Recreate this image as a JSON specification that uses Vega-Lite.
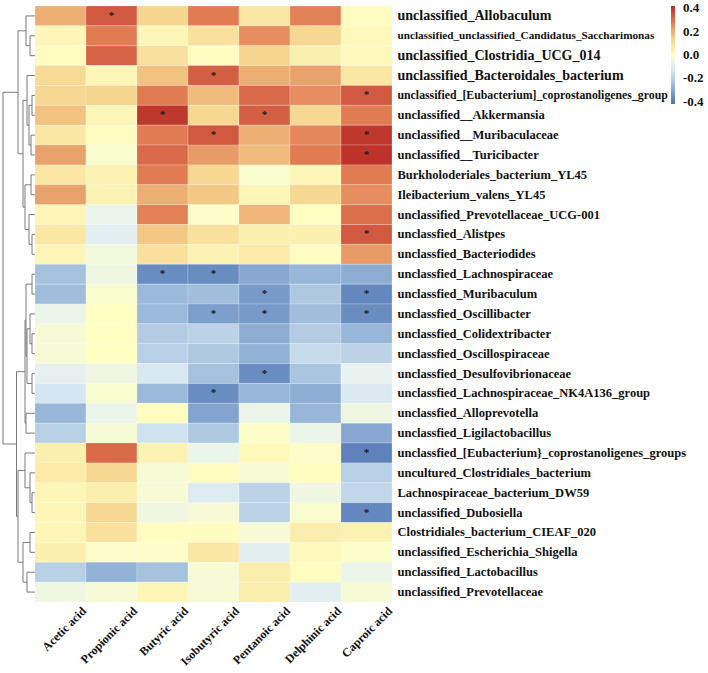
{
  "$schema": "https://vega.github.io/schema/vega-lite/v6.json",
  "padding": {"left": 0, "top": 5, "right": 0, "bottom": 0},
  "background": "white",
  "config": {"view": {"stroke": null}},
  "datasets": {
    "dendro": [
      {"x1":5,"y1":1.5,"x2":5,"y2":2.5},{"x1":0,"y1":1.5,"x2":5,"y2":1.5},{"x1":0,"y1":2.5,"x2":5,"y2":2.5},
      {"x1":9,"y1":0.5,"x2":9,"y2":2.0},{"x1":0,"y1":0.5,"x2":9,"y2":0.5},{"x1":5,"y1":2.0,"x2":9,"y2":2.0},
      {"x1":3,"y1":4.5,"x2":3,"y2":5.5},{"x1":0,"y1":4.5,"x2":3,"y2":4.5},{"x1":0,"y1":5.5,"x2":3,"y2":5.5},
      {"x1":4,"y1":6.5,"x2":4,"y2":7.5},{"x1":0,"y1":6.5,"x2":4,"y2":6.5},{"x1":0,"y1":7.5,"x2":4,"y2":7.5},
      {"x1":6,"y1":5.0,"x2":6,"y2":7.0},{"x1":3,"y1":5.0,"x2":6,"y2":5.0},{"x1":4,"y1":7.0,"x2":6,"y2":7.0},
      {"x1":8,"y1":3.5,"x2":8,"y2":6.0},{"x1":0,"y1":3.5,"x2":8,"y2":3.5},{"x1":6,"y1":6.0,"x2":8,"y2":6.0},
      {"x1":4,"y1":8.5,"x2":4,"y2":9.5},{"x1":0,"y1":8.5,"x2":4,"y2":8.5},{"x1":0,"y1":9.5,"x2":4,"y2":9.5},
      {"x1":3,"y1":11.5,"x2":3,"y2":12.5},{"x1":0,"y1":11.5,"x2":3,"y2":11.5},{"x1":0,"y1":12.5,"x2":3,"y2":12.5},
      {"x1":6,"y1":10.5,"x2":6,"y2":12.0},{"x1":0,"y1":10.5,"x2":6,"y2":10.5},{"x1":3,"y1":12.0,"x2":6,"y2":12.0},
      {"x1":10,"y1":9.0,"x2":10,"y2":11.25},{"x1":4,"y1":9.0,"x2":10,"y2":9.0},{"x1":6,"y1":11.25,"x2":10,"y2":11.25},
      {"x1":12,"y1":4.75,"x2":12,"y2":10.125},{"x1":8,"y1":4.75,"x2":12,"y2":4.75},{"x1":10,"y1":10.125,"x2":12,"y2":10.125},
      {"x1":17,"y1":1.25,"x2":17,"y2":7.4375},{"x1":9,"y1":1.25,"x2":17,"y2":1.25},{"x1":12,"y1":7.4375,"x2":17,"y2":7.4375},
      {"x1":3,"y1":13.5,"x2":3,"y2":14.5},{"x1":0,"y1":13.5,"x2":3,"y2":13.5},{"x1":0,"y1":14.5,"x2":3,"y2":14.5},
      {"x1":3,"y1":16.5,"x2":3,"y2":17.5},{"x1":0,"y1":16.5,"x2":3,"y2":16.5},{"x1":0,"y1":17.5,"x2":3,"y2":17.5},
      {"x1":5,"y1":15.5,"x2":5,"y2":17.0},{"x1":0,"y1":15.5,"x2":5,"y2":15.5},{"x1":3,"y1":17.0,"x2":5,"y2":17.0},
      {"x1":3,"y1":18.5,"x2":3,"y2":19.5},{"x1":0,"y1":18.5,"x2":3,"y2":18.5},{"x1":0,"y1":19.5,"x2":3,"y2":19.5},
      {"x1":8,"y1":16.25,"x2":8,"y2":19.0},{"x1":5,"y1":16.25,"x2":8,"y2":16.25},{"x1":3,"y1":19.0,"x2":8,"y2":19.0},
      {"x1":9,"y1":14.0,"x2":9,"y2":17.625},{"x1":3,"y1":14.0,"x2":9,"y2":14.0},{"x1":8,"y1":17.625,"x2":9,"y2":17.625},
      {"x1":9,"y1":20.5,"x2":9,"y2":21.5},{"x1":0,"y1":20.5,"x2":9,"y2":20.5},{"x1":0,"y1":21.5,"x2":9,"y2":21.5},
      {"x1":10,"y1":15.8125,"x2":10,"y2":21.0},{"x1":9,"y1":15.8125,"x2":10,"y2":15.8125},{"x1":9,"y1":21.0,"x2":10,"y2":21.0},
      {"x1":3,"y1":24.5,"x2":3,"y2":25.5},{"x1":0,"y1":24.5,"x2":3,"y2":24.5},{"x1":0,"y1":25.5,"x2":3,"y2":25.5},
      {"x1":5,"y1":23.5,"x2":5,"y2":25.0},{"x1":0,"y1":23.5,"x2":5,"y2":23.5},{"x1":3,"y1":25.0,"x2":5,"y2":25.0},
      {"x1":10,"y1":22.5,"x2":10,"y2":24.25},{"x1":0,"y1":22.5,"x2":10,"y2":22.5},{"x1":5,"y1":24.25,"x2":10,"y2":24.25},
      {"x1":5,"y1":26.5,"x2":5,"y2":27.5},{"x1":0,"y1":26.5,"x2":5,"y2":26.5},{"x1":0,"y1":27.5,"x2":5,"y2":27.5},
      {"x1":8,"y1":28.5,"x2":8,"y2":29.5},{"x1":0,"y1":28.5,"x2":8,"y2":28.5},{"x1":0,"y1":29.5,"x2":8,"y2":29.5},
      {"x1":12,"y1":27.0,"x2":12,"y2":29.0},{"x1":5,"y1":27.0,"x2":12,"y2":27.0},{"x1":8,"y1":29.0,"x2":12,"y2":29.0},
      {"x1":17,"y1":23.375,"x2":17,"y2":28.0},{"x1":10,"y1":23.375,"x2":17,"y2":23.375},{"x1":12,"y1":28.0,"x2":17,"y2":28.0},
      {"x1":18.5,"y1":18.40625,"x2":18.5,"y2":25.6875},{"x1":10,"y1":18.40625,"x2":18.5,"y2":18.40625},{"x1":17,"y1":25.6875,"x2":18.5,"y2":25.6875},
      {"x1":32,"y1":4.34375,"x2":32,"y2":22.046875},{"x1":17,"y1":4.34375,"x2":32,"y2":4.34375},{"x1":18.5,"y1":22.046875,"x2":32,"y2":22.046875}
    ],
    "cells": [
      {"taxon":"unclassified_Allobaculum","acid":"Acetic acid","r":0.20,"sig":""},
      {"taxon":"unclassified_Allobaculum","acid":"Propionic acid","r":0.34,"sig":"*"},
      {"taxon":"unclassified_Allobaculum","acid":"Butyric acid","r":0.14,"sig":""},
      {"taxon":"unclassified_Allobaculum","acid":"Isobutyric acid","r":0.28,"sig":""},
      {"taxon":"unclassified_Allobaculum","acid":"Pentanoic acid","r":0.08,"sig":""},
      {"taxon":"unclassified_Allobaculum","acid":"Delphinic acid","r":0.27,"sig":""},
      {"taxon":"unclassified_Allobaculum","acid":"Caproic acid","r":0.01,"sig":""},
      {"taxon":"unclassified_unclassified_Candidatus_Saccharimonas","acid":"Acetic acid","r":0.03,"sig":""},
      {"taxon":"unclassified_unclassified_Candidatus_Saccharimonas","acid":"Propionic acid","r":0.28,"sig":""},
      {"taxon":"unclassified_unclassified_Candidatus_Saccharimonas","acid":"Butyric acid","r":0.03,"sig":""},
      {"taxon":"unclassified_unclassified_Candidatus_Saccharimonas","acid":"Isobutyric acid","r":0.10,"sig":""},
      {"taxon":"unclassified_unclassified_Candidatus_Saccharimonas","acid":"Pentanoic acid","r":0.25,"sig":""},
      {"taxon":"unclassified_unclassified_Candidatus_Saccharimonas","acid":"Delphinic acid","r":0.13,"sig":""},
      {"taxon":"unclassified_unclassified_Candidatus_Saccharimonas","acid":"Caproic acid","r":0.02,"sig":""},
      {"taxon":"unclassified_Clostridia_UCG_014","acid":"Acetic acid","r":0.01,"sig":""},
      {"taxon":"unclassified_Clostridia_UCG_014","acid":"Propionic acid","r":0.32,"sig":""},
      {"taxon":"unclassified_Clostridia_UCG_014","acid":"Butyric acid","r":0.10,"sig":""},
      {"taxon":"unclassified_Clostridia_UCG_014","acid":"Isobutyric acid","r":0.01,"sig":""},
      {"taxon":"unclassified_Clostridia_UCG_014","acid":"Pentanoic acid","r":0.14,"sig":""},
      {"taxon":"unclassified_Clostridia_UCG_014","acid":"Delphinic acid","r":0.05,"sig":""},
      {"taxon":"unclassified_Clostridia_UCG_014","acid":"Caproic acid","r":0.02,"sig":""},
      {"taxon":"unclassified_Bacteroidales_bacterium","acid":"Acetic acid","r":0.12,"sig":""},
      {"taxon":"unclassified_Bacteroidales_bacterium","acid":"Propionic acid","r":0.03,"sig":""},
      {"taxon":"unclassified_Bacteroidales_bacterium","acid":"Butyric acid","r":0.17,"sig":""},
      {"taxon":"unclassified_Bacteroidales_bacterium","acid":"Isobutyric acid","r":0.33,"sig":"*"},
      {"taxon":"unclassified_Bacteroidales_bacterium","acid":"Pentanoic acid","r":0.20,"sig":""},
      {"taxon":"unclassified_Bacteroidales_bacterium","acid":"Delphinic acid","r":0.22,"sig":""},
      {"taxon":"unclassified_Bacteroidales_bacterium","acid":"Caproic acid","r":0.08,"sig":""},
      {"taxon":"unclassified_[Eubacterium]_coprostanoligenes_group","acid":"Acetic acid","r":0.13,"sig":""},
      {"taxon":"unclassified_[Eubacterium]_coprostanoligenes_group","acid":"Propionic acid","r":0.14,"sig":""},
      {"taxon":"unclassified_[Eubacterium]_coprostanoligenes_group","acid":"Butyric acid","r":0.28,"sig":""},
      {"taxon":"unclassified_[Eubacterium]_coprostanoligenes_group","acid":"Isobutyric acid","r":0.18,"sig":""},
      {"taxon":"unclassified_[Eubacterium]_coprostanoligenes_group","acid":"Pentanoic acid","r":0.31,"sig":""},
      {"taxon":"unclassified_[Eubacterium]_coprostanoligenes_group","acid":"Delphinic acid","r":0.25,"sig":""},
      {"taxon":"unclassified_[Eubacterium]_coprostanoligenes_group","acid":"Caproic acid","r":0.34,"sig":"*"},
      {"taxon":"unclassified__Akkermansia","acid":"Acetic acid","r":0.17,"sig":""},
      {"taxon":"unclassified__Akkermansia","acid":"Propionic acid","r":0.03,"sig":""},
      {"taxon":"unclassified__Akkermansia","acid":"Butyric acid","r":0.40,"sig":"*"},
      {"taxon":"unclassified__Akkermansia","acid":"Isobutyric acid","r":0.13,"sig":""},
      {"taxon":"unclassified__Akkermansia","acid":"Pentanoic acid","r":0.33,"sig":"*"},
      {"taxon":"unclassified__Akkermansia","acid":"Delphinic acid","r":0.13,"sig":""},
      {"taxon":"unclassified__Akkermansia","acid":"Caproic acid","r":0.28,"sig":""},
      {"taxon":"unclassified__Muribaculaceae","acid":"Acetic acid","r":0.08,"sig":""},
      {"taxon":"unclassified__Muribaculaceae","acid":"Propionic acid","r":0.01,"sig":""},
      {"taxon":"unclassified__Muribaculaceae","acid":"Butyric acid","r":0.28,"sig":""},
      {"taxon":"unclassified__Muribaculaceae","acid":"Isobutyric acid","r":0.34,"sig":"*"},
      {"taxon":"unclassified__Muribaculaceae","acid":"Pentanoic acid","r":0.20,"sig":""},
      {"taxon":"unclassified__Muribaculaceae","acid":"Delphinic acid","r":0.26,"sig":""},
      {"taxon":"unclassified__Muribaculaceae","acid":"Caproic acid","r":0.40,"sig":"*"},
      {"taxon":"unclassified__Turicibacter","acid":"Acetic acid","r":0.22,"sig":""},
      {"taxon":"unclassified__Turicibacter","acid":"Propionic acid","r":-0.02,"sig":""},
      {"taxon":"unclassified__Turicibacter","acid":"Butyric acid","r":0.31,"sig":""},
      {"taxon":"unclassified__Turicibacter","acid":"Isobutyric acid","r":0.23,"sig":""},
      {"taxon":"unclassified__Turicibacter","acid":"Pentanoic acid","r":0.18,"sig":""},
      {"taxon":"unclassified__Turicibacter","acid":"Delphinic acid","r":0.28,"sig":""},
      {"taxon":"unclassified__Turicibacter","acid":"Caproic acid","r":0.41,"sig":"*"},
      {"taxon":"Burkholoderiales_bacterium_YL45","acid":"Acetic acid","r":0.08,"sig":""},
      {"taxon":"Burkholoderiales_bacterium_YL45","acid":"Propionic acid","r":0.04,"sig":""},
      {"taxon":"Burkholoderiales_bacterium_YL45","acid":"Butyric acid","r":0.28,"sig":""},
      {"taxon":"Burkholoderiales_bacterium_YL45","acid":"Isobutyric acid","r":0.13,"sig":""},
      {"taxon":"Burkholoderiales_bacterium_YL45","acid":"Pentanoic acid","r":-0.02,"sig":""},
      {"taxon":"Burkholoderiales_bacterium_YL45","acid":"Delphinic acid","r":0.03,"sig":""},
      {"taxon":"Burkholoderiales_bacterium_YL45","acid":"Caproic acid","r":0.28,"sig":""},
      {"taxon":"Ileibacterium_valens_YL45","acid":"Acetic acid","r":0.22,"sig":""},
      {"taxon":"Ileibacterium_valens_YL45","acid":"Propionic acid","r":0.04,"sig":""},
      {"taxon":"Ileibacterium_valens_YL45","acid":"Butyric acid","r":0.20,"sig":""},
      {"taxon":"Ileibacterium_valens_YL45","acid":"Isobutyric acid","r":0.16,"sig":""},
      {"taxon":"Ileibacterium_valens_YL45","acid":"Pentanoic acid","r":0.03,"sig":""},
      {"taxon":"Ileibacterium_valens_YL45","acid":"Delphinic acid","r":0.13,"sig":""},
      {"taxon":"Ileibacterium_valens_YL45","acid":"Caproic acid","r":0.25,"sig":""},
      {"taxon":"unclassified_Prevotellaceae_UCG-001","acid":"Acetic acid","r":0.03,"sig":""},
      {"taxon":"unclassified_Prevotellaceae_UCG-001","acid":"Propionic acid","r":-0.06,"sig":""},
      {"taxon":"unclassified_Prevotellaceae_UCG-001","acid":"Butyric acid","r":0.27,"sig":""},
      {"taxon":"unclassified_Prevotellaceae_UCG-001","acid":"Isobutyric acid","r":-0.01,"sig":""},
      {"taxon":"unclassified_Prevotellaceae_UCG-001","acid":"Pentanoic acid","r":0.19,"sig":""},
      {"taxon":"unclassified_Prevotellaceae_UCG-001","acid":"Delphinic acid","r":0.00,"sig":""},
      {"taxon":"unclassified_Prevotellaceae_UCG-001","acid":"Caproic acid","r":0.30,"sig":""},
      {"taxon":"unclassfied_Alistpes","acid":"Acetic acid","r":0.08,"sig":""},
      {"taxon":"unclassfied_Alistpes","acid":"Propionic acid","r":-0.09,"sig":""},
      {"taxon":"unclassfied_Alistpes","acid":"Butyric acid","r":0.16,"sig":""},
      {"taxon":"unclassfied_Alistpes","acid":"Isobutyric acid","r":0.10,"sig":""},
      {"taxon":"unclassfied_Alistpes","acid":"Pentanoic acid","r":0.05,"sig":""},
      {"taxon":"unclassfied_Alistpes","acid":"Delphinic acid","r":0.05,"sig":""},
      {"taxon":"unclassfied_Alistpes","acid":"Caproic acid","r":0.34,"sig":"*"},
      {"taxon":"unclassfied_Bacteriodides","acid":"Acetic acid","r":0.03,"sig":""},
      {"taxon":"unclassfied_Bacteriodides","acid":"Propionic acid","r":-0.04,"sig":""},
      {"taxon":"unclassfied_Bacteriodides","acid":"Butyric acid","r":0.10,"sig":""},
      {"taxon":"unclassfied_Bacteriodides","acid":"Isobutyric acid","r":0.04,"sig":""},
      {"taxon":"unclassfied_Bacteriodides","acid":"Pentanoic acid","r":0.07,"sig":""},
      {"taxon":"unclassfied_Bacteriodides","acid":"Delphinic acid","r":0.01,"sig":""},
      {"taxon":"unclassfied_Bacteriodides","acid":"Caproic acid","r":0.23,"sig":""},
      {"taxon":"unclassfied_Lachnospiraceae","acid":"Acetic acid","r":-0.24,"sig":""},
      {"taxon":"unclassfied_Lachnospiraceae","acid":"Propionic acid","r":-0.05,"sig":""},
      {"taxon":"unclassfied_Lachnospiraceae","acid":"Butyric acid","r":-0.36,"sig":"*"},
      {"taxon":"unclassfied_Lachnospiraceae","acid":"Isobutyric acid","r":-0.36,"sig":"*"},
      {"taxon":"unclassfied_Lachnospiraceae","acid":"Pentanoic acid","r":-0.30,"sig":""},
      {"taxon":"unclassfied_Lachnospiraceae","acid":"Delphinic acid","r":-0.27,"sig":""},
      {"taxon":"unclassfied_Lachnospiraceae","acid":"Caproic acid","r":-0.29,"sig":""},
      {"taxon":"unclassfied_Muribaculum","acid":"Acetic acid","r":-0.25,"sig":""},
      {"taxon":"unclassfied_Muribaculum","acid":"Propionic acid","r":-0.02,"sig":""},
      {"taxon":"unclassfied_Muribaculum","acid":"Butyric acid","r":-0.26,"sig":""},
      {"taxon":"unclassfied_Muribaculum","acid":"Isobutyric acid","r":-0.25,"sig":""},
      {"taxon":"unclassfied_Muribaculum","acid":"Pentanoic acid","r":-0.33,"sig":"*"},
      {"taxon":"unclassfied_Muribaculum","acid":"Delphinic acid","r":-0.22,"sig":""},
      {"taxon":"unclassfied_Muribaculum","acid":"Caproic acid","r":-0.37,"sig":"*"},
      {"taxon":"unclassfied_Oscillibacter","acid":"Acetic acid","r":-0.06,"sig":""},
      {"taxon":"unclassfied_Oscillibacter","acid":"Propionic acid","r":0.00,"sig":""},
      {"taxon":"unclassfied_Oscillibacter","acid":"Butyric acid","r":-0.26,"sig":""},
      {"taxon":"unclassfied_Oscillibacter","acid":"Isobutyric acid","r":-0.32,"sig":"*"},
      {"taxon":"unclassfied_Oscillibacter","acid":"Pentanoic acid","r":-0.33,"sig":"*"},
      {"taxon":"unclassfied_Oscillibacter","acid":"Delphinic acid","r":-0.25,"sig":""},
      {"taxon":"unclassfied_Oscillibacter","acid":"Caproic acid","r":-0.36,"sig":"*"},
      {"taxon":"unclassfied_Colidextribacter","acid":"Acetic acid","r":-0.03,"sig":""},
      {"taxon":"unclassfied_Colidextribacter","acid":"Propionic acid","r":0.00,"sig":""},
      {"taxon":"unclassfied_Colidextribacter","acid":"Butyric acid","r":-0.21,"sig":""},
      {"taxon":"unclassfied_Colidextribacter","acid":"Isobutyric acid","r":-0.19,"sig":""},
      {"taxon":"unclassfied_Colidextribacter","acid":"Pentanoic acid","r":-0.29,"sig":""},
      {"taxon":"unclassfied_Colidextribacter","acid":"Delphinic acid","r":-0.21,"sig":""},
      {"taxon":"unclassfied_Colidextribacter","acid":"Caproic acid","r":-0.27,"sig":""},
      {"taxon":"unclassfied_Oscillospiraceae","acid":"Acetic acid","r":-0.03,"sig":""},
      {"taxon":"unclassfied_Oscillospiraceae","acid":"Propionic acid","r":0.00,"sig":""},
      {"taxon":"unclassfied_Oscillospiraceae","acid":"Butyric acid","r":-0.20,"sig":""},
      {"taxon":"unclassfied_Oscillospiraceae","acid":"Isobutyric acid","r":-0.22,"sig":""},
      {"taxon":"unclassfied_Oscillospiraceae","acid":"Pentanoic acid","r":-0.28,"sig":""},
      {"taxon":"unclassfied_Oscillospiraceae","acid":"Delphinic acid","r":-0.17,"sig":""},
      {"taxon":"unclassfied_Oscillospiraceae","acid":"Caproic acid","r":-0.19,"sig":""},
      {"taxon":"unclassfied_Desulfovibrionaceae","acid":"Acetic acid","r":-0.08,"sig":""},
      {"taxon":"unclassfied_Desulfovibrionaceae","acid":"Propionic acid","r":-0.05,"sig":""},
      {"taxon":"unclassfied_Desulfovibrionaceae","acid":"Butyric acid","r":-0.13,"sig":""},
      {"taxon":"unclassfied_Desulfovibrionaceae","acid":"Isobutyric acid","r":-0.24,"sig":""},
      {"taxon":"unclassfied_Desulfovibrionaceae","acid":"Pentanoic acid","r":-0.36,"sig":"*"},
      {"taxon":"unclassfied_Desulfovibrionaceae","acid":"Delphinic acid","r":-0.23,"sig":""},
      {"taxon":"unclassfied_Desulfovibrionaceae","acid":"Caproic acid","r":-0.07,"sig":""},
      {"taxon":"unclassfied_Lachnospiraceae_NK4A136_group","acid":"Acetic acid","r":-0.14,"sig":""},
      {"taxon":"unclassfied_Lachnospiraceae_NK4A136_group","acid":"Propionic acid","r":-0.02,"sig":""},
      {"taxon":"unclassfied_Lachnospiraceae_NK4A136_group","acid":"Butyric acid","r":-0.26,"sig":""},
      {"taxon":"unclassfied_Lachnospiraceae_NK4A136_group","acid":"Isobutyric acid","r":-0.36,"sig":"*"},
      {"taxon":"unclassfied_Lachnospiraceae_NK4A136_group","acid":"Pentanoic acid","r":-0.27,"sig":""},
      {"taxon":"unclassfied_Lachnospiraceae_NK4A136_group","acid":"Delphinic acid","r":-0.29,"sig":""},
      {"taxon":"unclassfied_Lachnospiraceae_NK4A136_group","acid":"Caproic acid","r":-0.12,"sig":""},
      {"taxon":"unclassfied_Alloprevotella","acid":"Acetic acid","r":-0.27,"sig":""},
      {"taxon":"unclassfied_Alloprevotella","acid":"Propionic acid","r":-0.06,"sig":""},
      {"taxon":"unclassfied_Alloprevotella","acid":"Butyric acid","r":0.01,"sig":""},
      {"taxon":"unclassfied_Alloprevotella","acid":"Isobutyric acid","r":-0.31,"sig":""},
      {"taxon":"unclassfied_Alloprevotella","acid":"Pentanoic acid","r":-0.06,"sig":""},
      {"taxon":"unclassfied_Alloprevotella","acid":"Delphinic acid","r":-0.27,"sig":""},
      {"taxon":"unclassfied_Alloprevotella","acid":"Caproic acid","r":-0.05,"sig":""},
      {"taxon":"unclassfied_Ligilactobacillus","acid":"Acetic acid","r":-0.20,"sig":""},
      {"taxon":"unclassfied_Ligilactobacillus","acid":"Propionic acid","r":-0.03,"sig":""},
      {"taxon":"unclassfied_Ligilactobacillus","acid":"Butyric acid","r":-0.15,"sig":""},
      {"taxon":"unclassfied_Ligilactobacillus","acid":"Isobutyric acid","r":-0.22,"sig":""},
      {"taxon":"unclassfied_Ligilactobacillus","acid":"Pentanoic acid","r":-0.01,"sig":""},
      {"taxon":"unclassfied_Ligilactobacillus","acid":"Delphinic acid","r":-0.06,"sig":""},
      {"taxon":"unclassfied_Ligilactobacillus","acid":"Caproic acid","r":-0.30,"sig":""},
      {"taxon":"unclassfied_[Eubacterium}_coprostanoligenes_groups","acid":"Acetic acid","r":0.05,"sig":""},
      {"taxon":"unclassfied_[Eubacterium}_coprostanoligenes_groups","acid":"Propionic acid","r":0.31,"sig":""},
      {"taxon":"unclassfied_[Eubacterium}_coprostanoligenes_groups","acid":"Butyric acid","r":0.04,"sig":""},
      {"taxon":"unclassfied_[Eubacterium}_coprostanoligenes_groups","acid":"Isobutyric acid","r":-0.06,"sig":""},
      {"taxon":"unclassfied_[Eubacterium}_coprostanoligenes_groups","acid":"Pentanoic acid","r":0.02,"sig":""},
      {"taxon":"unclassfied_[Eubacterium}_coprostanoligenes_groups","acid":"Delphinic acid","r":-0.01,"sig":""},
      {"taxon":"unclassfied_[Eubacterium}_coprostanoligenes_groups","acid":"Caproic acid","r":-0.38,"sig":"*"},
      {"taxon":"uncultured_Clostridiales_bacterium","acid":"Acetic acid","r":0.07,"sig":""},
      {"taxon":"uncultured_Clostridiales_bacterium","acid":"Propionic acid","r":0.13,"sig":""},
      {"taxon":"uncultured_Clostridiales_bacterium","acid":"Butyric acid","r":-0.03,"sig":""},
      {"taxon":"uncultured_Clostridiales_bacterium","acid":"Isobutyric acid","r":0.01,"sig":""},
      {"taxon":"uncultured_Clostridiales_bacterium","acid":"Pentanoic acid","r":-0.03,"sig":""},
      {"taxon":"uncultured_Clostridiales_bacterium","acid":"Delphinic acid","r":0.01,"sig":""},
      {"taxon":"uncultured_Clostridiales_bacterium","acid":"Caproic acid","r":-0.20,"sig":""},
      {"taxon":"Lachnospiraceae_bacterium_DW59","acid":"Acetic acid","r":0.03,"sig":""},
      {"taxon":"Lachnospiraceae_bacterium_DW59","acid":"Propionic acid","r":0.06,"sig":""},
      {"taxon":"Lachnospiraceae_bacterium_DW59","acid":"Butyric acid","r":-0.03,"sig":""},
      {"taxon":"Lachnospiraceae_bacterium_DW59","acid":"Isobutyric acid","r":-0.11,"sig":""},
      {"taxon":"Lachnospiraceae_bacterium_DW59","acid":"Pentanoic acid","r":-0.19,"sig":""},
      {"taxon":"Lachnospiraceae_bacterium_DW59","acid":"Delphinic acid","r":-0.05,"sig":""},
      {"taxon":"Lachnospiraceae_bacterium_DW59","acid":"Caproic acid","r":-0.18,"sig":""},
      {"taxon":"unclassified_Dubosiella","acid":"Acetic acid","r":0.03,"sig":""},
      {"taxon":"unclassified_Dubosiella","acid":"Propionic acid","r":0.13,"sig":""},
      {"taxon":"unclassified_Dubosiella","acid":"Butyric acid","r":-0.05,"sig":""},
      {"taxon":"unclassified_Dubosiella","acid":"Isobutyric acid","r":-0.03,"sig":""},
      {"taxon":"unclassified_Dubosiella","acid":"Pentanoic acid","r":-0.19,"sig":""},
      {"taxon":"unclassified_Dubosiella","acid":"Delphinic acid","r":-0.02,"sig":""},
      {"taxon":"unclassified_Dubosiella","acid":"Caproic acid","r":-0.37,"sig":"*"},
      {"taxon":"Clostridiales_bacterium_CIEAF_020","acid":"Acetic acid","r":0.03,"sig":""},
      {"taxon":"Clostridiales_bacterium_CIEAF_020","acid":"Propionic acid","r":0.10,"sig":""},
      {"taxon":"Clostridiales_bacterium_CIEAF_020","acid":"Butyric acid","r":0.01,"sig":""},
      {"taxon":"Clostridiales_bacterium_CIEAF_020","acid":"Isobutyric acid","r":0.01,"sig":""},
      {"taxon":"Clostridiales_bacterium_CIEAF_020","acid":"Pentanoic acid","r":-0.03,"sig":""},
      {"taxon":"Clostridiales_bacterium_CIEAF_020","acid":"Delphinic acid","r":0.06,"sig":""},
      {"taxon":"Clostridiales_bacterium_CIEAF_020","acid":"Caproic acid","r":0.04,"sig":""},
      {"taxon":"unclassified_Escherichia_Shigella","acid":"Acetic acid","r":0.05,"sig":""},
      {"taxon":"unclassified_Escherichia_Shigella","acid":"Propionic acid","r":-0.01,"sig":""},
      {"taxon":"unclassified_Escherichia_Shigella","acid":"Butyric acid","r":-0.01,"sig":""},
      {"taxon":"unclassified_Escherichia_Shigella","acid":"Isobutyric acid","r":0.08,"sig":""},
      {"taxon":"unclassified_Escherichia_Shigella","acid":"Pentanoic acid","r":-0.09,"sig":""},
      {"taxon":"unclassified_Escherichia_Shigella","acid":"Delphinic acid","r":0.02,"sig":""},
      {"taxon":"unclassified_Escherichia_Shigella","acid":"Caproic acid","r":-0.01,"sig":""},
      {"taxon":"unclassified_Lactobacillus","acid":"Acetic acid","r":-0.20,"sig":""},
      {"taxon":"unclassified_Lactobacillus","acid":"Propionic acid","r":-0.28,"sig":""},
      {"taxon":"unclassified_Lactobacillus","acid":"Butyric acid","r":-0.24,"sig":""},
      {"taxon":"unclassified_Lactobacillus","acid":"Isobutyric acid","r":-0.03,"sig":""},
      {"taxon":"unclassified_Lactobacillus","acid":"Pentanoic acid","r":0.06,"sig":""},
      {"taxon":"unclassified_Lactobacillus","acid":"Delphinic acid","r":0.01,"sig":""},
      {"taxon":"unclassified_Lactobacillus","acid":"Caproic acid","r":-0.06,"sig":""},
      {"taxon":"unclassified_Prevotellaceae","acid":"Acetic acid","r":-0.05,"sig":""},
      {"taxon":"unclassified_Prevotellaceae","acid":"Propionic acid","r":-0.03,"sig":""},
      {"taxon":"unclassified_Prevotellaceae","acid":"Butyric acid","r":0.03,"sig":""},
      {"taxon":"unclassified_Prevotellaceae","acid":"Isobutyric acid","r":-0.03,"sig":""},
      {"taxon":"unclassified_Prevotellaceae","acid":"Pentanoic acid","r":0.06,"sig":""},
      {"taxon":"unclassified_Prevotellaceae","acid":"Delphinic acid","r":-0.09,"sig":""},
      {"taxon":"unclassified_Prevotellaceae","acid":"Caproic acid","r":-0.03,"sig":""}
    ]
  },
  "hconcat": [
    {
      "width": 35,
      "height": 596,
      "data": {"name": "dendro"},
      "mark": {"type": "rule", "color": "#7a7a7a", "strokeWidth": 1},
      "encoding": {
        "x": {"field": "x1", "type": "quantitative", "scale": {"domain": [0, 35], "reverse": true, "nice": false, "zero": false}, "axis": null},
        "x2": {"field": "x2"},
        "y": {"field": "y1", "type": "quantitative", "scale": {"domain": [0, 30], "reverse": true, "nice": false, "zero": false}, "axis": null},
        "y2": {"field": "y2"}
      }
    },
    {
      "width": 357,
      "height": 596,
      "data": {"name": "cells"},
      "encoding": {
        "x": {
          "field": "acid", "type": "nominal", "sort": null,
          "scale": {"paddingInner": 0, "paddingOuter": 0},
          "axis": {
            "orient": "bottom", "title": null, "ticks": false, "domain": false,
            "labelAngle": -45, "labelAlign": "right", "labelBaseline": "top",
            "labelOffset": 20, "labelPadding": 3,
            "labelFont": "Liberation Serif", "labelFontWeight": "bold", "labelFontSize": 12, "labelColor": "#111111"
          }
        },
        "y": {
          "field": "taxon", "type": "nominal", "sort": null,
          "scale": {"paddingInner": 0, "paddingOuter": 0},
          "axis": {
            "orient": "right", "title": null, "ticks": false, "domain": false,
            "labelPadding": 5, "labelLimit": 400,
            "labelFont": "Liberation Serif", "labelFontWeight": "bold", "labelColor": "#111111",
            "labelFontSize": {
              "condition": [
                {"test": "datum.value === 'unclassified_Allobaculum' || datum.value === 'unclassified_Clostridia_UCG_014' || datum.value === 'unclassified_Bacteroidales_bacterium'", "value": 14},
                {"test": "datum.value === 'unclassified_unclassified_Candidatus_Saccharimonas'", "value": 11.2},
                {"test": "datum.value === 'unclassified_[Eubacterium]_coprostanoligenes_group'", "value": 11.8}
              ],
              "value": 12.5
            }
          }
        }
      },
      "layer": [
        {
          "mark": {"type": "rect", "stroke": "#ffffff", "strokeOpacity": 0.35, "strokeWidth": 0.6},
          "encoding": {
            "color": {
              "field": "r", "type": "quantitative",
              "scale": {
                "domain": [-0.42, -0.28, -0.14, -0.07, 0, 0.14, 0.28, 0.42],
                "range": ["#4a6fb2", "#92b2d6", "#d4e6f1", "#e9f3ef", "#ffffc2", "#f6d58e", "#e17b52", "#bb2c27"],
                "interpolate": "rgb"
              },
              "legend": {
                "orient": "none", "legendX": 671, "legendY": 0,
                "direction": "vertical", "title": null,
                "gradientLength": 98, "gradientThickness": 4, "gradientStrokeWidth": 0,
                "values": [0.4, 0.2, 0, -0.2, -0.4],
                "labelExpr": "datum.value < 0 ? '-' + format(-datum.value, '.1f') : format(datum.value, '.1f')",
                "labelFont": "Liberation Serif", "labelFontWeight": "bold", "labelFontSize": 13,
                "labelColor": "#111111", "labelOffset": 8
              }
            }
          }
        },
        {
          "mark": {"type": "text", "font": "Liberation Serif", "fontSize": 11, "fontWeight": "bold", "baseline": "middle", "color": "#1a1a1a"},
          "encoding": {"text": {"field": "sig"}}
        }
      ]
    }
  ],
  "spacing": 0,
  "bounds": "flush"
}
